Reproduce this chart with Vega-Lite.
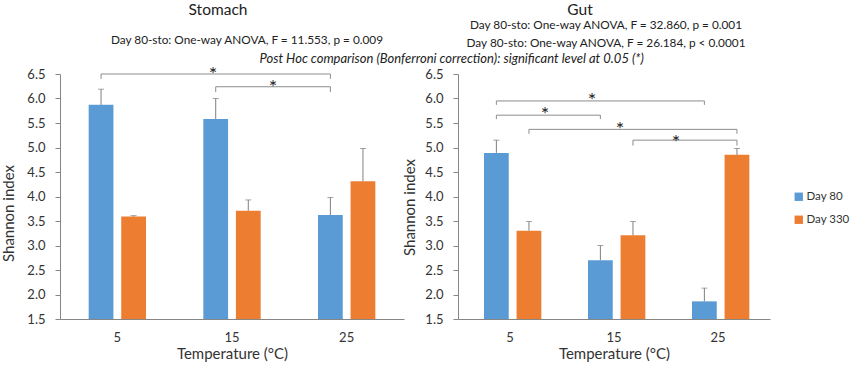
{
  "$schema": "https://vega.github.io/schema/vega-lite/v6.json",
  "padding": {"left": 1, "top": 3, "right": 5, "bottom": 2},
  "bounds": "flush",
  "spacing": 54,
  "datasets": {
    "bars": [
      {"organ": "Stomach", "temp": "5", "day": "Day 80", "value": 5.87, "upper": 6.19},
      {"organ": "Stomach", "temp": "5", "day": "Day 330", "value": 3.59, "upper": 3.61},
      {"organ": "Stomach", "temp": "15", "day": "Day 80", "value": 5.58, "upper": 6.0},
      {"organ": "Stomach", "temp": "15", "day": "Day 330", "value": 3.71, "upper": 3.93},
      {"organ": "Stomach", "temp": "25", "day": "Day 80", "value": 3.62, "upper": 3.98},
      {"organ": "Stomach", "temp": "25", "day": "Day 330", "value": 4.31, "upper": 4.98},
      {"organ": "Gut", "temp": "5", "day": "Day 80", "value": 4.89, "upper": 5.15},
      {"organ": "Gut", "temp": "5", "day": "Day 330", "value": 3.3, "upper": 3.49},
      {"organ": "Gut", "temp": "15", "day": "Day 80", "value": 2.7, "upper": 3.0},
      {"organ": "Gut", "temp": "15", "day": "Day 330", "value": 3.21, "upper": 3.49},
      {"organ": "Gut", "temp": "25", "day": "Day 80", "value": 1.86, "upper": 2.13},
      {"organ": "Gut", "temp": "25", "day": "Day 330", "value": 4.85, "upper": 4.98}
    ],
    "brackets": [
      {"organ": "Stomach", "id": "s1", "day": "Day 80", "from": "5", "to": "25", "y": 6.5, "yend": 6.4},
      {"organ": "Stomach", "id": "s2", "day": "Day 80", "from": "15", "to": "25", "y": 6.24, "yend": 6.13},
      {"organ": "Gut", "id": "g1", "day": "Day 80", "from": "5", "to": "25", "y": 5.95, "yend": 5.87},
      {"organ": "Gut", "id": "g2", "day": "Day 80", "from": "5", "to": "15", "y": 5.66, "yend": 5.58},
      {"organ": "Gut", "id": "g3", "day": "Day 330", "from": "5", "to": "25", "y": 5.37, "yend": 5.28},
      {"organ": "Gut", "id": "g4", "day": "Day 330", "from": "15", "to": "25", "y": 5.15, "yend": 5.04}
    ]
  },
  "hconcat": [
    {
      "width": 344,
      "height": 245,
      "layer": [
        {
          "data": {"name": "bars"},
          "transform": [{"filter": "datum.organ === 'Stomach'"}],
          "mark": {"type": "bar"},
          "encoding": {
            "x": {"field": "temp", "type": "ordinal", "scale": {"domain": ["5", "15", "25"], "paddingInner": 0.5, "paddingOuter": 0.25},
                  "axis": {"title": "Temperature (°C)", "labelAngle": 0, "ticks": false, "labelPadding": 12, "titlePadding": 2}},
            "xOffset": {"field": "day", "type": "nominal", "scale": {"domain": ["Day 80", "Day 330"], "paddingInner": 0.24, "paddingOuter": 0}},
            "y": {"field": "value", "type": "quantitative", "scale": {"domain": [1.5, 6.5], "nice": false, "zero": false},
                  "axis": {"title": "Shannon index", "values": [1.5, 2, 2.5, 3, 3.5, 4, 4.5, 5, 5.5, 6, 6.5], "tickCount": 12, "format": ".1f", "labelOverlap": false, "tickSize": 5, "labelPadding": 10, "titlePadding": 10, "titleY": 139}},
            "y2": {"datum": 1.5},
            "color": {"field": "day", "type": "nominal", "scale": {"domain": ["Day 80", "Day 330"], "range": ["#5B9BD5", "#ED7D31"]},
                      "legend": {"title": null, "orient": "none", "legendX": 733, "legendY": 117, "symbolType": "square", "symbolSize": 70, "symbolStrokeWidth": 0, "labelFontSize": 11.5, "labelColor": "#333", "labelOffset": 2, "rowPadding": 10}}
          }
        },
        {
          "data": {"name": "bars"},
          "transform": [{"filter": "datum.organ === 'Stomach'"}],
          "mark": {"type": "rule", "color": "#7f7f7f", "strokeWidth": 1},
          "encoding": {
            "x": {"field": "temp", "type": "ordinal"},
            "xOffset": {"field": "day", "type": "nominal"},
            "y": {"field": "value", "type": "quantitative"},
            "y2": {"field": "upper"}
          }
        },
        {
          "data": {"name": "bars"},
          "transform": [{"filter": "datum.organ === 'Stomach'"}],
          "mark": {"type": "tick", "color": "#7f7f7f", "thickness": 1, "size": 6},
          "encoding": {
            "x": {"field": "temp", "type": "ordinal"},
            "xOffset": {"field": "day", "type": "nominal"},
            "y": {"field": "upper", "type": "quantitative"}
          }
        },
        {
          "data": {"name": "brackets"},
          "transform": [{"filter": "datum.organ === 'Stomach'"}, {"fold": ["from", "to"], "as": ["end", "endTemp"]}],
          "mark": {"type": "line", "color": "#8c8c8c", "strokeWidth": 1},
          "encoding": {
            "x": {"field": "endTemp", "type": "ordinal"},
            "xOffset": {"field": "day", "type": "nominal"},
            "y": {"field": "y", "type": "quantitative"},
            "detail": {"field": "id"}
          }
        },
        {
          "data": {"name": "brackets"},
          "transform": [{"filter": "datum.organ === 'Stomach'"}, {"fold": ["from", "to"], "as": ["end", "endTemp"]}],
          "mark": {"type": "rule", "color": "#8c8c8c", "strokeWidth": 1},
          "encoding": {
            "x": {"field": "endTemp", "type": "ordinal"},
            "xOffset": {"field": "day", "type": "nominal"},
            "y": {"field": "y", "type": "quantitative"},
            "y2": {"field": "yend"}
          }
        },
        {
          "data": {"values": [{}]},
          "mark": {"type": "text", "text": "*", "fontSize": 20, "baseline": "alphabetic", "dy": 7, "dx": -19, "fill": "#222", "color": "#222"},
          "encoding": {"x": {"datum": "15"}, "y": {"datum": 6.5}}
        },
        {
          "data": {"values": [{}]},
          "mark": {"type": "text", "text": "*", "fontSize": 20, "baseline": "alphabetic", "dy": 7, "dx": 41, "fill": "#222", "color": "#222"},
          "encoding": {"x": {"datum": "15"}, "y": {"datum": 6.24}}
        },
        {
          "data": {"values": [{}]},
          "mark": {"type": "text", "fontSize": 15.5, "dx": -14, "baseline": "middle", "color": "#222"},
          "encoding": {"x": {"datum": "15"}, "y": {"datum": 7.8}, "text": {"value": "Stomach"}}
        },
        {
          "data": {"values": [{}]},
          "mark": {"type": "text", "fontSize": 11.8, "dx": 15, "baseline": "middle", "color": "#222"},
          "encoding": {"x": {"datum": "15"}, "y": {"datum": 7.19}, "text": {"value": "Day 80-sto: One-way ANOVA, F = 11.553, p = 0.009"}}
        },
        {
          "data": {"values": [{}]},
          "mark": {"type": "text", "fontSize": 13, "dx": 105, "baseline": "middle", "fontStyle": "italic", "color": "#222"},
          "encoding": {"x": {"datum": "25"}, "y": {"datum": 6.81}, "text": {"value": "Post Hoc comparison (Bonferroni correction): significant level at 0.05 (*)"}}
        }
      ]
    },
    {
      "width": 312,
      "height": 245,
      "layer": [
        {
          "data": {"name": "bars"},
          "transform": [{"filter": "datum.organ === 'Gut'"}],
          "mark": {"type": "bar"},
          "encoding": {
            "x": {"field": "temp", "type": "ordinal", "scale": {"domain": ["5", "15", "25"], "paddingInner": 0.5, "paddingOuter": 0.25},
                  "axis": {"title": "Temperature (°C)", "labelAngle": 0, "ticks": false, "labelPadding": 12, "titlePadding": 2}},
            "xOffset": {"field": "day", "type": "nominal", "scale": {"domain": ["Day 80", "Day 330"], "paddingInner": 0.24, "paddingOuter": 0}},
            "y": {"field": "value", "type": "quantitative", "scale": {"domain": [1.5, 6.5], "nice": false, "zero": false},
                  "axis": {"title": "Shannon index", "values": [1.5, 2, 2.5, 3, 3.5, 4, 4.5, 5, 5.5, 6, 6.5], "tickCount": 12, "format": ".1f", "labelOverlap": false, "tickSize": 5, "labelPadding": 10, "titlePadding": 7, "titleY": 133}},
            "y2": {"datum": 1.5},
            "color": {"field": "day", "type": "nominal", "scale": {"domain": ["Day 80", "Day 330"], "range": ["#5B9BD5", "#ED7D31"]}}
          }
        },
        {
          "data": {"name": "bars"},
          "transform": [{"filter": "datum.organ === 'Gut'"}],
          "mark": {"type": "rule", "color": "#7f7f7f", "strokeWidth": 1},
          "encoding": {
            "x": {"field": "temp", "type": "ordinal"},
            "xOffset": {"field": "day", "type": "nominal"},
            "y": {"field": "value", "type": "quantitative"},
            "y2": {"field": "upper"}
          }
        },
        {
          "data": {"name": "bars"},
          "transform": [{"filter": "datum.organ === 'Gut'"}],
          "mark": {"type": "tick", "color": "#7f7f7f", "thickness": 1, "size": 6},
          "encoding": {
            "x": {"field": "temp", "type": "ordinal"},
            "xOffset": {"field": "day", "type": "nominal"},
            "y": {"field": "upper", "type": "quantitative"}
          }
        },
        {
          "data": {"name": "brackets"},
          "transform": [{"filter": "datum.organ === 'Gut'"}, {"fold": ["from", "to"], "as": ["end", "endTemp"]}],
          "mark": {"type": "line", "color": "#8c8c8c", "strokeWidth": 1},
          "encoding": {
            "x": {"field": "endTemp", "type": "ordinal"},
            "xOffset": {"field": "day", "type": "nominal"},
            "y": {"field": "y", "type": "quantitative"},
            "detail": {"field": "id"}
          }
        },
        {
          "data": {"name": "brackets"},
          "transform": [{"filter": "datum.organ === 'Gut'"}, {"fold": ["from", "to"], "as": ["end", "endTemp"]}],
          "mark": {"type": "rule", "color": "#8c8c8c", "strokeWidth": 1},
          "encoding": {
            "x": {"field": "endTemp", "type": "ordinal"},
            "xOffset": {"field": "day", "type": "nominal"},
            "y": {"field": "y", "type": "quantitative"},
            "y2": {"field": "yend"}
          }
        },
        {
          "data": {"values": [{}]},
          "mark": {"type": "text", "text": "*", "fontSize": 20, "baseline": "alphabetic", "dy": 6, "dx": -22, "fill": "#222", "color": "#222"},
          "encoding": {"x": {"datum": "15"}, "y": {"datum": 5.95}}
        },
        {
          "data": {"values": [{}]},
          "mark": {"type": "text", "text": "*", "fontSize": 20, "baseline": "alphabetic", "dy": 6, "dx": 35, "fill": "#222", "color": "#222"},
          "encoding": {"x": {"datum": "5"}, "y": {"datum": 5.66}}
        },
        {
          "data": {"values": [{}]},
          "mark": {"type": "text", "text": "*", "fontSize": 20, "baseline": "alphabetic", "dy": 7, "dx": 6, "fill": "#222", "color": "#222"},
          "encoding": {"x": {"datum": "15"}, "y": {"datum": 5.37}}
        },
        {
          "data": {"values": [{}]},
          "mark": {"type": "text", "text": "*", "fontSize": 20, "baseline": "alphabetic", "dy": 9, "dx": -42, "fill": "#222", "color": "#222"},
          "encoding": {"x": {"datum": "25"}, "y": {"datum": 5.15}}
        },
        {
          "data": {"values": [{}]},
          "mark": {"type": "text", "fontSize": 15.5, "dx": -34, "baseline": "middle", "color": "#222"},
          "encoding": {"x": {"datum": "15"}, "y": {"datum": 7.8}, "text": {"value": "Gut"}}
        },
        {
          "data": {"values": [{}]},
          "mark": {"type": "text", "fontSize": 11.8, "dx": -8, "baseline": "middle", "color": "#222"},
          "encoding": {"x": {"datum": "15"}, "y": {"datum": 7.49}, "text": {"value": "Day 80-sto: One-way ANOVA, F = 32.860, p = 0.001"}}
        },
        {
          "data": {"values": [{}]},
          "mark": {"type": "text", "fontSize": 11.8, "dx": -8, "baseline": "middle", "color": "#222"},
          "encoding": {"x": {"datum": "15"}, "y": {"datum": 7.13}, "text": {"value": "Day 80-sto: One-way ANOVA, F = 26.184, p < 0.0001"}}
        }
      ]
    }
  ],
  "config": {
    "font": "Lato",
    "view": {"stroke": null},
    "axis": {"grid": false, "labelOverlap": false, "domainColor": "#868686", "tickColor": "#868686", "labelColor": "#333", "titleColor": "#333", "labelFontSize": 13, "titleFontSize": 15, "titleFontWeight": "normal"},
    "legend": {"labelFont": "Lato"}
  }
}
